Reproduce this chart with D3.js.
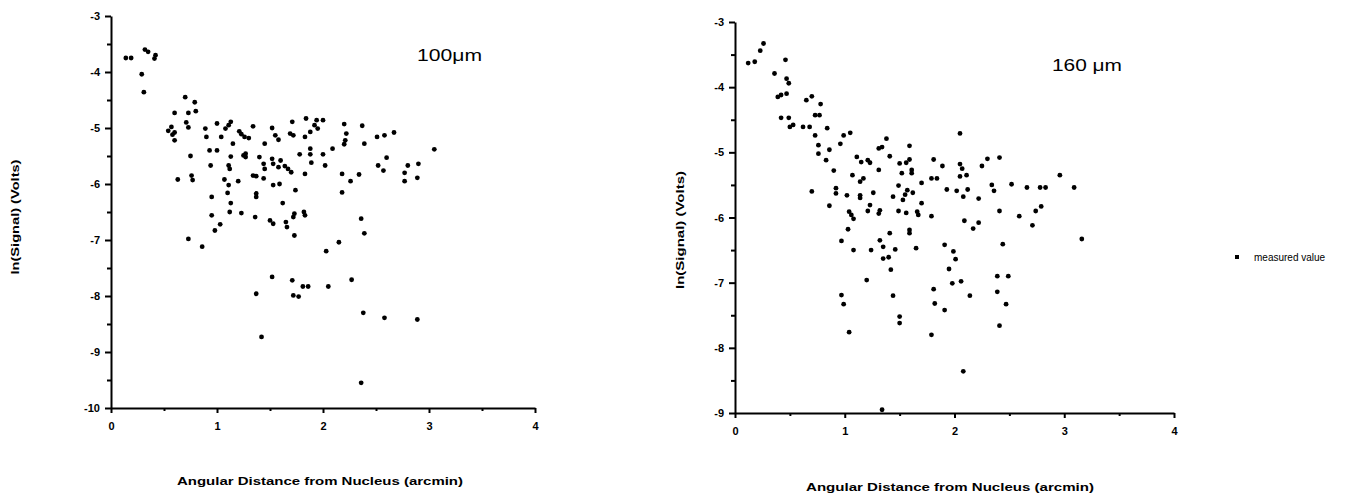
<!DOCTYPE html>
<html>
<head>
<meta charset="utf-8">
<script src="https://cdn.jsdelivr.net/npm/d3@7"></script>
<style>
  body { margin: 0; background: #fff; }
  svg { display: block; font-family: "Liberation Sans", Arial, sans-serif; }
  .axis path, .axis line { stroke: #000; stroke-width: 2; }
  .axis text { font-size: 11px; font-weight: bold; fill: #000; }
  .title { font-size: 11px; font-weight: bold; fill: #000; }
  .dot { fill: #000; }
</style>
</head>
<body>
<svg id="chart" width="1363" height="496"></svg>
<script>
// 100 micron panel: angular distance (arcmin) and ln(signal)
var dist100 = [0.14,0.19,0.32,0.35,0.42,0.41,0.29,0.31,0.70,0.79,0.60,0.73,0.80,
  0.54,0.57,0.60,0.60,0.58,0.71,0.73,0.63,0.75,0.76,0.77,0.73,0.86,0.89,0.90,1.00,
  0.93,1.00,0.94,0.95,0.95,0.98,1.03,1.04,1.08,1.11,1.13,1.15,1.13,1.11,1.12,1.07,
  1.11,1.10,1.13,1.12,1.20,1.21,1.23,1.26,1.30,1.34,1.25,1.27,1.27,1.23,1.34,1.37,
  1.37,1.37,1.36,1.45,1.40,1.44,1.45,1.44,1.37,1.42,1.52,1.52,1.53,1.58,1.55,1.58,
  1.53,1.59,1.50,1.53,1.52,1.62,1.60,1.64,1.67,1.65,1.66,1.69,1.72,1.71,1.70,1.74,
  1.72,1.73,1.73,1.72,1.77,1.71,1.81,1.84,1.83,1.78,1.83,1.83,1.82,1.86,1.88,1.92,
  1.95,1.94,2.00,1.88,1.88,1.89,2.00,2.02,2.03,2.05,2.09,2.15,2.20,2.21,2.22,2.20,
  2.18,2.18,2.26,2.27,2.34,2.37,2.39,2.36,2.39,2.38,2.36,2.51,2.58,2.67,2.52,2.57,
  2.60,2.58,2.77,2.77,2.80,2.89,2.90,2.89,3.05];
var lnSig100 = [-3.75,-3.75,-3.60,-3.64,-3.70,-3.76,-4.04,-4.36,-4.45,-4.54,-4.73,-4.73,-4.70,
  -5.05,-4.98,-5.08,-5.22,-5.12,-4.90,-4.99,-5.92,-5.50,-5.85,-5.93,-6.98,-7.12,-5.01,-5.16,-4.92,
  -5.40,-5.40,-5.67,-6.23,-6.56,-6.83,-6.72,-5.16,-5.01,-4.95,-4.89,-5.28,-5.51,-5.67,-5.73,-5.92,
  -6.02,-6.16,-6.34,-6.50,-5.95,-5.06,-5.11,-5.16,-5.18,-4.97,-5.49,-5.52,-5.46,-6.52,-5.85,-5.86,
  -6.17,-6.23,-6.59,-5.28,-5.52,-5.64,-5.73,-5.90,-7.96,-8.73,-5.00,-5.55,-5.64,-5.70,-5.13,-5.21,
  -6.02,-6.00,-6.65,-6.71,-7.66,-6.34,-5.58,-5.68,-5.73,-6.68,-6.77,-5.10,-5.13,-4.89,-5.79,-6.11,
  -6.59,-6.53,-6.92,-7.99,-8.01,-7.72,-7.83,-4.83,-5.16,-5.47,-5.82,-6.56,-6.50,-7.83,-5.07,-4.95,
  -5.01,-4.86,-4.86,-5.37,-5.47,-5.62,-5.47,-5.67,-7.20,-7.83,-5.37,-7.04,-4.93,-5.22,-5.10,-5.29,
  -5.82,-6.15,-5.95,-7.71,-5.83,-4.96,-5.28,-6.62,-6.88,-8.30,-9.55,-5.16,-5.13,-5.08,-5.67,-5.76,
  -5.53,-8.39,-5.80,-5.95,-5.67,-5.89,-5.64,-8.42,-5.38];

// 160 micron panel
var dist160 = [0.12,0.18,0.23,0.26,0.36,0.46,0.47,0.49,0.39,0.42,0.47,0.42,0.49,0.50,0.53,
  0.62,0.65,0.70,0.78,0.73,0.77,0.68,0.73,0.84,0.76,0.76,0.70,0.83,0.86,0.90,0.86,0.92,0.92,
  0.96,0.99,1.05,0.97,0.97,0.99,1.04,1.03,1.08,1.02,1.04,1.06,1.08,1.07,1.11,1.15,1.14,1.17,
  1.14,1.14,1.20,1.21,1.23,1.21,1.23,1.24,1.26,1.31,1.31,1.34,1.31,1.32,1.38,1.32,1.35,1.35,
  1.40,1.41,1.42,1.41,1.44,1.44,1.46,1.49,1.49,1.50,1.50,1.50,1.52,1.53,1.55,1.57,1.56,1.59,
  1.56,1.59,1.59,1.59,1.61,1.61,1.62,1.65,1.66,1.67,1.70,1.70,1.79,1.81,1.79,1.84,1.79,1.81,
  1.82,1.89,1.91,1.91,1.93,1.95,1.98,1.99,2.01,2.02,2.05,2.05,2.07,2.05,2.11,2.08,2.12,2.06,
  2.09,2.14,2.08,2.17,2.22,2.22,2.25,2.30,2.34,2.36,2.41,2.41,2.39,2.39,2.41,2.44,2.49,2.47,
  2.52,2.59,2.66,2.71,2.74,2.79,2.78,2.83,2.96,3.09,3.16,1.34];
var lnSig160 = [-3.63,-3.61,-3.44,-3.33,-3.79,-3.58,-3.87,-3.94,-4.15,-4.12,-4.10,-4.47,-4.47,-4.61,-4.58,
  -4.61,-4.20,-4.14,-4.26,-4.43,-4.43,-4.61,-4.74,-4.63,-4.89,-5.02,-5.60,-5.12,-4.96,-5.28,-5.82,-5.55,-5.63,
  -4.87,-4.74,-4.70,-6.36,-7.19,-7.33,-7.76,-6.18,-6.50,-5.66,-5.91,-5.96,-6.02,-5.35,-5.07,-5.15,-5.45,-5.40,
  -5.66,-5.70,-6.96,-5.90,-5.81,-5.12,-5.16,-6.50,-5.62,-5.27,-4.94,-4.92,-5.94,-5.89,-4.79,-6.35,-6.45,-6.63,
  -6.61,-6.24,-6.80,-5.06,-5.68,-7.20,-6.49,-5.90,-5.51,-7.52,-7.62,-5.17,-5.32,-5.73,-5.65,-5.58,-5.16,-5.11,
  -5.93,-4.90,-6.19,-6.24,-5.27,-5.32,-5.62,-6.47,-5.91,-5.96,-5.78,-5.47,-5.98,-5.11,-5.40,-5.40,-7.80,-7.10,
  -7.32,-5.21,-6.42,-7.42,-5.57,-6.79,-7.01,-6.52,-6.64,-5.59,-4.71,-5.18,-5.25,-5.37,-5.35,-5.68,-5.57,-6.98,
  -6.05,-7.20,-8.36,-6.17,-6.08,-5.71,-5.21,-5.10,-5.50,-5.59,-5.08,-5.90,-6.90,-7.14,-7.66,-6.41,-6.90,-7.33,
  -5.49,-5.98,-5.54,-6.12,-5.90,-5.83,-5.54,-5.54,-5.35,-5.54,-6.33,-8.95];

var xTicks = [0, 1, 2, 3, 4];
var xMinor = [0.5, 1.5, 2.5, 3.5];
var yTicks100 = [-3, -4, -5, -6, -7, -8, -9, -10];
var yMinor100 = [-3.5, -4.5, -5.5, -6.5, -7.5, -8.5, -9.5];
var yTicks160 = [-3, -4, -5, -6, -7, -8, -9];
var yMinor160 = [-3.5, -4.5, -5.5, -6.5, -7.5, -8.5];

var xTitle = "Angular Distance from Nucleus (arcmin)";
var yTitle = "ln(Signal) (Volts)";
var legendLabel = "measured value";

var svg = d3.select("#chart");

function drawPanel(p) {
  var x = d3.scaleLinear().domain([0, 4]).range([p.left, p.right]);
  var y = d3.scaleLinear().domain([p.yMin, -3]).range([p.bottom, p.top]);
  var g = svg.append("g");
  var fmt = function(d) { return String(d); };

  // minor ticks first, then major axes
  g.append("g").attr("class", "axis")
    .attr("transform", "translate(0," + p.bottom + ")")
    .call(d3.axisBottom(x).tickValues(xMinor).tickSize(3).tickFormat(""))
    .select(".domain").remove();
  g.append("g").attr("class", "axis")
    .attr("transform", "translate(" + p.left + ",0)")
    .call(d3.axisLeft(y).tickValues(p.yMinor).tickSize(4).tickFormat(""))
    .select(".domain").remove();

  g.append("g").attr("class", "axis")
    .attr("transform", "translate(0," + p.bottom + ")")
    .call(d3.axisBottom(x).tickValues(xTicks).tickSize(5).tickSizeOuter(0).tickPadding(9).tickFormat(fmt));
  g.append("g").attr("class", "axis")
    .attr("transform", "translate(" + p.left + ",0)")
    .call(d3.axisLeft(y).tickValues(p.yTicks).tickSize(6).tickSizeOuter(0).tickPadding(5).tickFormat(fmt));

  g.selectAll("circle.dot")
    .data(p.xs)
    .enter().append("circle")
    .attr("class", "dot")
    .attr("cx", function(d) { return x(d); })
    .attr("cy", function(d, i) { return y(p.ys[i]); })
    .attr("r", 2.4);

  g.append("text").attr("class", "title")
    .attr("x", p.xTitleX).attr("y", p.xTitleY)
    .attr("text-anchor", "middle")
    .attr("textLength", p.xTitleLen).attr("lengthAdjust", "spacingAndGlyphs")
    .text(xTitle);
  g.append("text").attr("class", "title")
    .attr("transform", "translate(" + p.yTitleX + "," + p.yTitleY + ") rotate(-90)")
    .attr("text-anchor", "middle")
    .attr("textLength", p.yTitleLen).attr("lengthAdjust", "spacingAndGlyphs")
    .text(yTitle);
  g.append("text")
    .attr("x", p.labelX).attr("y", p.labelY)
    .style("font-size", "16px")
    .attr("textLength", p.labelLen).attr("lengthAdjust", "spacingAndGlyphs")
    .text(p.label);
}

drawPanel({
  xs: dist100, ys: lnSig100, yMin: -10, yTicks: yTicks100, yMinor: yMinor100,
  left: 111, right: 535, top: 16, bottom: 408,
  xTitleX: 320, xTitleY: 485, xTitleLen: 286,
  yTitleX: 19, yTitleY: 217, yTitleLen: 115,
  labelX: 417, labelY: 61, labelLen: 65, label: "100\u03bcm"
});

drawPanel({
  xs: dist160, ys: lnSig160, yMin: -9, yTicks: yTicks160, yMinor: yMinor160,
  left: 735, right: 1174, top: 22, bottom: 413,
  xTitleX: 950, xTitleY: 491, xTitleLen: 288,
  yTitleX: 684, yTitleY: 230, yTitleLen: 118,
  labelX: 1052, labelY: 71, labelLen: 70, label: "160 \u03bcm"
});

// legend
var legend = svg.append("g").attr("transform", "translate(1237,257)");
legend.append("rect").attr("x", -2).attr("y", -2).attr("width", 4).attr("height", 4).attr("fill", "#000");
legend.append("text").attr("x", 17).attr("y", 4)
  .style("font-size", "10px")
  .text(legendLabel);
</script>
</body>
</html>
